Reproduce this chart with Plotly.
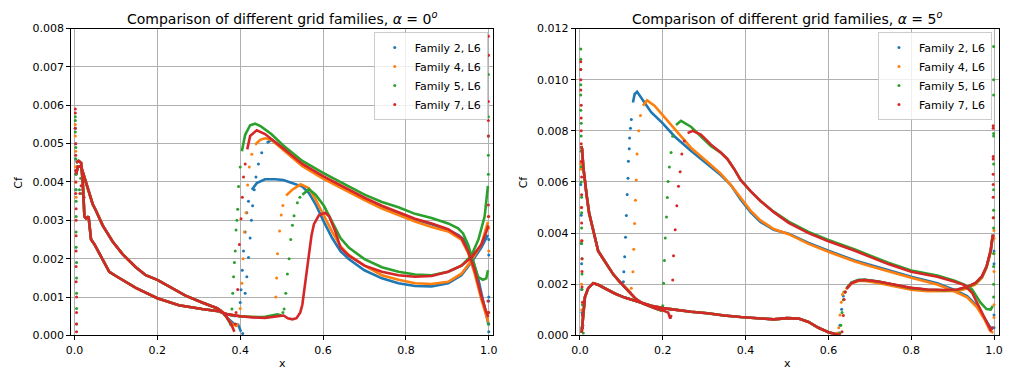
import plotly.graph_objects as go

# ---------------- colours / names ----------------
families = ["Family 2, L6", "Family 4, L6", "Family 5, L6", "Family 7, L6"]
colors = ["#1f77b4", "#ff7f0e", "#2ca02c", "#d62728"]
x_ticks = [0.0, 0.2, 0.4, 0.6, 0.8, 1.0]
x_tick_labels = ["0.0", "0.2", "0.4", "0.6", "0.8", "1.0"]

# ================= alpha = 0 =================
a0_lamU_x = [0.004, 0.008, 0.016, 0.024, 0.032, 0.044, 0.052, 0.068, 0.092, 0.116, 0.148, 0.172, 0.2, 0.228, 0.268, 0.308, 0.332, 0.344, 0.356]
a0_lamU_cf = [0.0042, 0.0044, 0.0044, 0.00413, 0.00388, 0.00342, 0.00325, 0.00287, 0.00245, 0.00212, 0.00178, 0.00157, 0.00145, 0.00128, 0.00104, 0.00086, 0.00075, 0.00071, 0.00062]
a0_lamL_x = [0.004, 0.01, 0.016, 0.02, 0.024, 0.028, 0.034, 0.04, 0.048, 0.056, 0.068, 0.084, 0.1, 0.12, 0.148, 0.2, 0.252, 0.308, 0.348]
a0_lamL_cf = [0.0045, 0.00455, 0.0045, 0.004, 0.0031, 0.00305, 0.0031, 0.0025, 0.00238, 0.00222, 0.00195, 0.00166, 0.00155, 0.00142, 0.00124, 0.00097, 0.00079, 0.00069, 0.00063]

# Family 2
a0_f2_A_x = [0.356, 0.37, 0.385, 0.395, 0.402, None, 0.464, 0.476, 0.5, 0.55, 0.6, 0.662, 0.7, 0.742, 0.782, 0.822, 0.862, 0.902, 0.926, 0.94, 0.95, 0.962, 0.974, 0.986, 0.994, 0.999]
a0_f2_A_cf = [0.00062, 0.00045, 0.0003, 0.00028, 0.0001, None, 0.00502, 0.0051, 0.0049, 0.00445, 0.00413, 0.00378, 0.00357, 0.00336, 0.00319, 0.00302, 0.0029, 0.00275, 0.00262, 0.0025, 0.0023, 0.00195, 0.0015, 0.0009, 0.0005, 0.0003]
a0_f2_B_x = [0.348, 0.37, 0.39, None, 0.428, 0.44, 0.46, 0.484, 0.504, 0.526, 0.55, 0.566, 0.582, 0.602, 0.622, 0.642, 0.662, 0.7, 0.742, 0.782, 0.822, 0.862, 0.902, 0.934, 0.958, 0.982, 0.998]
a0_f2_B_cf = [0.00063, 0.00055, 0.0005, None, 0.0038, 0.00397, 0.00407, 0.00407, 0.00405, 0.00397, 0.00388, 0.00371, 0.00342, 0.00296, 0.00254, 0.0022, 0.00199, 0.0017, 0.00149, 0.00136, 0.00129, 0.00128, 0.00136, 0.00157, 0.00191, 0.00229, 0.00262]
a0_f2_dots_x = [0.002, 0.003, 0.003, 0.004, 0.004,
                0.398, 0.4, 0.402, 0.405, 0.408, 0.412, 0.416, 0.42,
                0.406, 0.412, 0.416, 0.42, 0.424, 0.427, 0.43, 0.434, 0.438, 0.444, 0.452,
                1.0, 1.0, 1.0, 1.0, 1.0, 1.0]
a0_f2_dots_cf = [0.0054, 0.005, 0.0046, 0.0042, 0.0038,
                 0.0005, 0.00086, 0.00119, 0.0017, 0.0022, 0.0027, 0.0032, 0.0035,
                 0.00005, 0.0011, 0.00153, 0.00203, 0.00254, 0.003, 0.00338, 0.0038, 0.00413, 0.00447, 0.00476,
                 0.0025, 0.0021, 0.001, 0.0009, 0.0003, 0.0001]

# Family 4
a0_f4_A_x = [0.356, 0.37, 0.38, 0.39, 0.395, None, 0.436, 0.448, 0.46, 0.475, 0.502, 0.55, 0.6, 0.662, 0.7, 0.742, 0.782, 0.822, 0.862, 0.902, 0.934, 0.95, 0.966, 0.982, 0.994, 0.999]
a0_f4_A_cf = [0.00062, 0.00045, 0.0003, 0.00025, 0.0003, None, 0.00497, 0.0051, 0.00514, 0.0051, 0.00485, 0.00441, 0.00409, 0.00373, 0.00353, 0.00331, 0.00314, 0.00297, 0.00283, 0.00271, 0.0025, 0.00216, 0.00161, 0.00094, 0.00052, 0.00035]
a0_f4_B_x = [0.348, 0.37, 0.4, 0.43, 0.46, 0.48, None, 0.511, 0.526, 0.546, 0.566, 0.582, 0.602, 0.622, 0.642, 0.662, 0.7, 0.742, 0.782, 0.822, 0.862, 0.902, 0.934, 0.958, 0.982, 0.998]
a0_f4_B_cf = [0.00063, 0.00055, 0.0005, 0.00048, 0.00047, 0.0005, None, 0.00365, 0.0038, 0.00394, 0.00384, 0.00355, 0.00313, 0.0027, 0.00233, 0.0021, 0.00182, 0.00157, 0.00145, 0.00136, 0.00134, 0.0014, 0.00161, 0.00195, 0.00237, 0.00296]
a0_f4_dots_x = [0.002, 0.002, 0.003, 0.003, 0.004, 0.004,
                0.4, 0.404, 0.407, 0.41, 0.414, 0.418, 0.422, 0.428,
                0.483, 0.486, 0.488, 0.49, 0.495, 0.499, 0.503,
                1.0, 1.0, 1.0, 1.0]
a0_f4_dots_cf = [0.0055, 0.0052, 0.0048, 0.0044, 0.004, 0.0036,
                 0.0007, 0.00136, 0.002, 0.0027, 0.0032, 0.00392, 0.00439, 0.00472,
                 0.00053, 0.001, 0.0015, 0.00213, 0.00272, 0.00314, 0.00339,
                 0.0031, 0.0028, 0.0022, 0.0006]

# Family 5
a0_f5_A_x = [0.356, 0.366, 0.374, 0.378, None, 0.404, 0.412, 0.424, 0.436, 0.45, 0.475, 0.502, 0.55, 0.6, 0.662, 0.7, 0.742, 0.782, 0.822, 0.862, 0.902, 0.926, 0.938, 0.95, 0.962, 0.974, 0.986, 0.994, 0.998]
a0_f5_A_cf = [0.00062, 0.0005, 0.00035, 0.00025, None, 0.0048, 0.00523, 0.00548, 0.00552, 0.00545, 0.00525, 0.00497, 0.00455, 0.00424, 0.00388, 0.00367, 0.00348, 0.00334, 0.00317, 0.00306, 0.00292, 0.00279, 0.00266, 0.00237, 0.00195, 0.00153, 0.00145, 0.00149, 0.0017]
a0_f5_B_x = [0.348, 0.37, 0.4, 0.43, 0.46, 0.48, 0.49, 0.5, None, 0.55, 0.566, 0.582, 0.602, 0.622, 0.642, 0.662, 0.7, 0.742, 0.782, 0.822, 0.862, 0.902, 0.934, 0.958, 0.975, 0.99, 0.998]
a0_f5_B_cf = [0.00063, 0.00055, 0.0005, 0.00048, 0.00049, 0.00052, 0.00055, 0.00052, None, 0.00367, 0.00381, 0.00367, 0.00338, 0.00296, 0.00254, 0.00229, 0.00199, 0.00178, 0.00166, 0.00159, 0.00157, 0.00166, 0.00182, 0.00208, 0.0025, 0.0031, 0.0039]
a0_f5_dots_x = [0.002, 0.002, 0.002, 0.003, 0.003, 0.003, 0.003, 0.004, 0.004, 0.004, 0.004, 0.005, 0.005, 0.005, 0.005, 0.005,
                0.012, 0.015, 0.018, 0.021,
                0.38, 0.382, 0.384, 0.386, 0.388, 0.39, 0.392, 0.394, 0.396, 0.4,
                0.503, 0.506, 0.51, 0.514, 0.518, 0.522, 0.526, 0.53, 0.538, 0.544,
                0.999, 0.999, 0.999, 0.999, 0.999, 0.999, 0.999, 0.999]
a0_f5_dots_cf = [0.0057, 0.0056, 0.0053, 0.0049, 0.0046, 0.0042, 0.0038, 0.0035, 0.0031, 0.0027, 0.0023, 0.0019, 0.0015, 0.0011, 0.0007, 0.0003,
                 0.0038, 0.0041, 0.0037, 0.004,
                 0.00069, 0.0011, 0.00153, 0.0019, 0.0022, 0.00275, 0.003, 0.00329, 0.00388, 0.00439,
                 0.0006, 0.00069, 0.0011, 0.0016, 0.002, 0.0025, 0.00287, 0.00312, 0.00346, 0.0036,
                 0.0073, 0.0068, 0.0057, 0.0052, 0.0047, 0.0042, 0.0006, 0.0003]

# Family 7
a0_f7_A_x = [0.356, 0.366, 0.378, 0.386, None, 0.417, 0.424, 0.44, 0.46, 0.502, 0.55, 0.6, 0.662, 0.7, 0.742, 0.782, 0.822, 0.862, 0.902, 0.934, 0.95, 0.966, 0.982, 0.994, 0.999]
a0_f7_A_cf = [0.00062, 0.0005, 0.0003, 0.0001, None, 0.00485, 0.0052, 0.00535, 0.00525, 0.00489, 0.00447, 0.00415, 0.0038, 0.00359, 0.00338, 0.00321, 0.00304, 0.00292, 0.00277, 0.00254, 0.0022, 0.0017, 0.00103, 0.00061, 0.00048]
a0_f7_B_x = [0.348, 0.37, 0.4, 0.43, 0.46, 0.49, 0.505, 0.515, 0.526, 0.536, 0.545, 0.55, 0.556, 0.562, 0.567, 0.572, 0.578, 0.59, 0.605, 0.615, 0.63, 0.642, 0.662, 0.7, 0.742, 0.782, 0.822, 0.862, 0.902, 0.934, 0.958, 0.982, 0.994, 0.999]
a0_f7_B_cf = [0.00063, 0.00055, 0.0005, 0.00047, 0.00046, 0.0005, 0.00052, 0.00045, 0.00042, 0.00045, 0.0006, 0.0008, 0.0013, 0.0018, 0.0022, 0.0026, 0.0029, 0.00313, 0.0032, 0.0031, 0.0027, 0.00229, 0.00208, 0.00182, 0.00166, 0.00157, 0.00153, 0.00155, 0.00166, 0.00182, 0.00203, 0.00237, 0.0027, 0.00287]
a0_f7_dots_x = [0.002, 0.002, 0.002, 0.003, 0.003, 0.003, 0.003, 0.003, 0.004, 0.004, 0.004, 0.004, 0.004, 0.004, 0.005, 0.005, 0.005, 0.005,
                0.013, 0.016, 0.02, 0.023,
                0.388, 0.39, 0.394, 0.398, 0.402, 0.405, 0.408, 0.412,
                0.999, 0.999, 0.999, 0.999, 0.999, 0.999, 0.999, 0.998, 0.999]
a0_f7_dots_cf = [0.0059, 0.0058, 0.0054, 0.005, 0.0047, 0.0043, 0.004, 0.0037, 0.0033, 0.003, 0.0026, 0.0022, 0.0018, 0.0014, 0.001, 0.0006, 0.0003, 0.0001,
                 0.0037, 0.0039, 0.0038, 0.0036,
                 0.0003, 0.0006, 0.0012, 0.00237, 0.00304, 0.0036, 0.00413, 0.00447,
                 0.0078, 0.0073, 0.0061, 0.0056, 0.0052, 0.0034, 0.0031, 0.0009, 0.0006]

# ================= alpha = 5 =================
a5_P_pre_x = [0.004, 0.006, 0.008, 0.012, 0.02, 0.032, 0.044, 0.06, 0.084, 0.108, 0.132, 0.148, 0.172, 0.2, 0.228, 0.268, 0.308, 0.348, 0.388, 0.436, 0.468, 0.5, 0.528, 0.552, 0.576, 0.6, 0.616, 0.624]
a5_P_pre_cf = [0.0001, 0.0005, 0.001, 0.0015, 0.00185, 0.00204, 0.00198, 0.00185, 0.00164, 0.00148, 0.00135, 0.00126, 0.00116, 0.00107, 0.00101, 0.00093, 0.00087, 0.00078, 0.00072, 0.00066, 0.00063, 0.00068, 0.00066, 0.00053, 0.0003, 0.00013, 0.00005, 0.00003]

# Family 2
a5_f2_S_x = [0.003, 0.005, 0.008, 0.012, 0.016, 0.022, 0.032, 0.044, 0.056, 0.064, 0.08, 0.096, 0.104, None, 0.128, 0.132, 0.138, 0.148, 0.172, 0.2, 0.228, 0.268, 0.308, 0.34, 0.364, 0.388, 0.412, 0.436, 0.468, 0.504, 0.552, 0.6, 0.664, 0.704, 0.743, 0.8, 0.863, 0.903, 0.935, 0.959, 0.978, 0.99, 0.998]
a5_f2_S_cf = [0.0074, 0.0073, 0.0066, 0.006, 0.0055, 0.0048, 0.0041, 0.0033, 0.003, 0.0028, 0.0024, 0.0021, 0.002, None, 0.00911, 0.00943, 0.00953, 0.0093, 0.00873, 0.00829, 0.00779, 0.00722, 0.00671, 0.00627, 0.00589, 0.00532, 0.00482, 0.00444, 0.00413, 0.00398, 0.00362, 0.00331, 0.00293, 0.00274, 0.00255, 0.0023, 0.00204, 0.00179, 0.00154, 0.00116, 0.00066, 0.00034, 0.00025]
a5_f2_P_x = [0.644, 0.656, 0.672, 0.688, 0.72, 0.759, 0.8, 0.839, 0.879, 0.911, 0.935, 0.955, 0.971, 0.982, 0.992, 0.997]
a5_f2_P_cf = [0.00185, 0.00207, 0.00217, 0.00218, 0.00211, 0.00198, 0.00185, 0.00179, 0.00177, 0.00179, 0.00189, 0.00204, 0.0023, 0.00268, 0.00331, 0.00394]
a5_f2_dots_x = [0.002, 0.003, 0.003, 0.004, 0.004, 0.005, 0.005,
                0.105, 0.106, 0.108, 0.11, 0.112, 0.114, 0.116, 0.117, 0.119, 0.12, 0.122, 0.124,
                0.626, 0.628, 0.632, 0.636, 0.64,
                1.0, 1.0, 1.0, 1.0]
a5_f2_dots_cf = [0.0059, 0.0047, 0.0036, 0.0028, 0.0018, 0.0009, 0.0003,
                 0.0021, 0.00249, 0.00308, 0.00384, 0.00469, 0.00551, 0.00615, 0.00681, 0.0073, 0.00772, 0.0081, 0.00844,
                 0.0001, 0.0004, 0.00103, 0.00154, 0.0017,
                 0.0033, 0.0028, 0.0008, 0.0003]

# Family 4
a5_f4_S_x = [0.003, 0.005, 0.008, 0.012, 0.016, 0.022, 0.032, 0.044, 0.056, 0.064, 0.08, 0.096, 0.108, 0.12, 0.124, None, 0.152, 0.162, 0.18, 0.2, 0.228, 0.268, 0.308, 0.34, 0.364, 0.388, 0.412, 0.436, 0.468, 0.504, 0.552, 0.6, 0.664, 0.704, 0.743, 0.8, 0.863, 0.903, 0.935, 0.959, 0.978, 0.99, 0.998]
a5_f4_S_cf = [0.0074, 0.0073, 0.0066, 0.006, 0.0055, 0.0048, 0.0041, 0.0033, 0.003, 0.0028, 0.0024, 0.0021, 0.0019, 0.0017, 0.00165, None, 0.00898, 0.00919, 0.00898, 0.0086, 0.0081, 0.00734, 0.00678, 0.00633, 0.00589, 0.00539, 0.00488, 0.0045, 0.00416, 0.00396, 0.00358, 0.00327, 0.00289, 0.0027, 0.00251, 0.00226, 0.00199, 0.00174, 0.00149, 0.0011, 0.0006, 0.0002, 0.0001]
a5_f4_P_x = [0.642, 0.656, 0.672, 0.688, 0.72, 0.759, 0.8, 0.839, 0.879, 0.911, 0.935, 0.955, 0.971, 0.982, 0.992, 0.997]
a5_f4_P_cf = [0.0018, 0.00203, 0.00213, 0.00213, 0.00205, 0.00192, 0.00179, 0.00173, 0.00172, 0.00174, 0.00184, 0.002, 0.00226, 0.00265, 0.00328, 0.0039]
a5_f4_dots_x = [0.002, 0.002, 0.003, 0.003, 0.004, 0.004,
                0.124, 0.128, 0.13, 0.132, 0.134, 0.136, 0.138, 0.142, 0.146,
                0.622, 0.625, 0.628, 0.631, 0.634, 0.637,
                1.0, 1.0, 1.0, 1.0, 1.0, 1.0]
a5_f4_dots_cf = [0.0067, 0.0065, 0.005, 0.0037, 0.002, 0.001,
                 0.00185, 0.00249, 0.00337, 0.00438, 0.00529, 0.00608, 0.00709, 0.008, 0.0086,
                 0.0001, 0.0003, 0.0008, 0.0013, 0.0016, 0.0017,
                 0.0041, 0.0038, 0.0032, 0.0025, 0.0012, 0.0007]

# Family 5
a5_f5_S_x = [0.003, 0.005, 0.008, 0.012, 0.016, 0.022, 0.032, 0.044, 0.056, 0.064, 0.08, 0.096, 0.108, 0.12, 0.135, 0.152, 0.17, 0.184, 0.198, None, 0.232, 0.244, 0.268, 0.292, 0.316, 0.34, 0.356, 0.372, 0.388, 0.412, 0.436, 0.468, 0.504, 0.552, 0.6, 0.664, 0.704, 0.743, 0.8, 0.863, 0.903, 0.927, 0.947, 0.967, 0.982, 0.992, 0.997]
a5_f5_S_cf = [0.0074, 0.0073, 0.0066, 0.006, 0.0055, 0.0048, 0.0041, 0.0033, 0.003, 0.0028, 0.0024, 0.0021, 0.0019, 0.0017, 0.00143, 0.00125, 0.00112, 0.00104, 0.00096, None, 0.00823, 0.00839, 0.00816, 0.00779, 0.00741, 0.00715, 0.0069, 0.00652, 0.00608, 0.00564, 0.00526, 0.00484, 0.00445, 0.00405, 0.00373, 0.00336, 0.0031, 0.00285, 0.00254, 0.00234, 0.00215, 0.002, 0.0018, 0.00129, 0.00103, 0.00101, 0.00116]
a5_f5_P_x = [0.644, 0.656, 0.672, 0.688, 0.72, 0.759, 0.8, 0.839, 0.879, 0.911, 0.935, 0.955, 0.971, 0.982, 0.992, 0.997]
a5_f5_P_cf = [0.00185, 0.00207, 0.00217, 0.00218, 0.00211, 0.00198, 0.00185, 0.00179, 0.00177, 0.00179, 0.00189, 0.00204, 0.0023, 0.00268, 0.00331, 0.00394]
a5_f5_dots_x = [0.002, 0.002, 0.002, 0.002, 0.002, 0.002, 0.003, 0.003, 0.003, 0.003, 0.003, 0.004, 0.004, 0.004, 0.004, 0.005, 0.005, 0.005, 0.006, 0.006, 0.007, 0.008,
                0.2, 0.202, 0.204, 0.206, 0.209, 0.211, 0.213, 0.216, 0.22, 0.224,
                0.628, 0.63, 0.633, 0.636, 0.64,
                0.999, 0.999, 0.999, 0.999, 0.999, 0.999, 0.999, 0.999, 0.999, 0.999, 0.999, 0.999, 0.999, 0.999]
a5_f5_dots_cf = [0.0112, 0.0108, 0.0104, 0.0098, 0.0094, 0.0088, 0.0083, 0.0078, 0.0072, 0.0066, 0.006, 0.0054, 0.0048, 0.0042, 0.0036, 0.003, 0.0024, 0.0018, 0.0012, 0.0008, 0.0004, 0.0001,
                 0.00116, 0.00204, 0.00293, 0.00381, 0.00463, 0.00539, 0.00602, 0.00659, 0.00715, 0.00779,
                 0.0001, 0.0004, 0.0009, 0.0014, 0.0017,
                 0.0113, 0.01, 0.0094, 0.0079, 0.0078, 0.0067, 0.0057, 0.0049, 0.0046, 0.0042, 0.0032, 0.0027, 0.002, 0.0015]

# Family 7
a5_f7_S_x = [0.003, 0.005, 0.008, 0.012, 0.016, 0.022, 0.032, 0.044, 0.056, 0.064, 0.08, 0.096, 0.108, 0.12, 0.135, 0.152, 0.17, 0.184, 0.2, 0.207, 0.213, 0.218, 0.221, None, 0.26, 0.272, 0.292, 0.316, 0.34, 0.356, 0.372, 0.388, 0.412, 0.436, 0.468, 0.504, 0.552, 0.6, 0.664, 0.704, 0.743, 0.8, 0.863, 0.903, 0.927, 0.947, 0.967, 0.982, 0.992, 0.998]
a5_f7_S_cf = [0.0074, 0.0073, 0.0066, 0.006, 0.0055, 0.0048, 0.0041, 0.0033, 0.003, 0.0028, 0.0024, 0.0021, 0.0019, 0.0017, 0.00143, 0.00125, 0.00112, 0.00104, 0.00098, 0.00095, 0.0009, 0.00066, 0.0008, None, 0.00791, 0.008, 0.00785, 0.00747, 0.00715, 0.0069, 0.00652, 0.00608, 0.00564, 0.00526, 0.00482, 0.0044, 0.004, 0.00368, 0.00331, 0.00305, 0.0028, 0.00249, 0.0023, 0.00211, 0.00198, 0.00167, 0.00103, 0.00053, 0.00021, 0.00034]
a5_f7_P_x = [0.624, 0.63, None, 0.644, 0.656, 0.672, 0.688, 0.72, 0.759, 0.8, 0.839, 0.879, 0.911, 0.935, 0.955, 0.971, 0.982, 0.992, 0.997]
a5_f7_P_cf = [0.00003, 0.00004, None, 0.00182, 0.00205, 0.00215, 0.00217, 0.00211, 0.00199, 0.00186, 0.0018, 0.00178, 0.0018, 0.0019, 0.00205, 0.00232, 0.0027, 0.00333, 0.0039]
a5_f7_dots_x = [0.002, 0.002, 0.002, 0.002, 0.003, 0.003, 0.003, 0.003, 0.003, 0.004, 0.004, 0.004, 0.004, 0.005, 0.005, 0.005, 0.005, 0.006, 0.006, 0.006,
                0.222, 0.224, 0.226, 0.23, 0.234, 0.238, 0.242, 0.246, 0.252,
                0.633, 0.636, 0.638, 0.641,
                0.998, 0.998, 0.998, 0.998, 0.998, 0.998, 0.998, 0.998, 0.998]
a5_f7_dots_cf = [0.0107, 0.0104, 0.01, 0.0096, 0.009, 0.0085, 0.008, 0.0075, 0.0068, 0.0062, 0.0055, 0.005, 0.0044, 0.0037, 0.003, 0.0025, 0.0019, 0.0013, 0.0008, 0.0003,
                 0.00103, 0.00217, 0.00312, 0.00413, 0.00507, 0.00583, 0.0064, 0.00709, 0.0076,
                 0.00015, 0.00078, 0.00141, 0.0017,
                 0.0082, 0.0081, 0.007, 0.0069, 0.0063, 0.0059, 0.0054, 0.0046, 0.0039]

# ---------------- assemble ----------------
panel0 = [
    ([(a0_lamU_x, a0_lamU_cf), (a0_lamL_x, a0_lamL_cf), (a0_f2_A_x, a0_f2_A_cf), (a0_f2_B_x, a0_f2_B_cf)], (a0_f2_dots_x, a0_f2_dots_cf)),
    ([(a0_lamU_x, a0_lamU_cf), (a0_lamL_x, a0_lamL_cf), (a0_f4_A_x, a0_f4_A_cf), (a0_f4_B_x, a0_f4_B_cf)], (a0_f4_dots_x, a0_f4_dots_cf)),
    ([(a0_lamU_x, a0_lamU_cf), (a0_lamL_x, a0_lamL_cf), (a0_f5_A_x, a0_f5_A_cf), (a0_f5_B_x, a0_f5_B_cf)], (a0_f5_dots_x, a0_f5_dots_cf)),
    ([(a0_lamU_x, a0_lamU_cf), (a0_lamL_x, a0_lamL_cf), (a0_f7_A_x, a0_f7_A_cf), (a0_f7_B_x, a0_f7_B_cf)], (a0_f7_dots_x, a0_f7_dots_cf)),
]
panel5 = [
    ([(a5_P_pre_x, a5_P_pre_cf), (a5_f2_S_x, a5_f2_S_cf), (a5_f2_P_x, a5_f2_P_cf)], (a5_f2_dots_x, a5_f2_dots_cf)),
    ([(a5_P_pre_x, a5_P_pre_cf), (a5_f4_S_x, a5_f4_S_cf), (a5_f4_P_x, a5_f4_P_cf)], (a5_f4_dots_x, a5_f4_dots_cf)),
    ([(a5_P_pre_x, a5_P_pre_cf), (a5_f5_S_x, a5_f5_S_cf), (a5_f5_P_x, a5_f5_P_cf)], (a5_f5_dots_x, a5_f5_dots_cf)),
    ([(a5_P_pre_x, a5_P_pre_cf), (a5_f7_S_x, a5_f7_S_cf), (a5_f7_P_x, a5_f7_P_cf)], (a5_f7_dots_x, a5_f7_dots_cf)),
]

fig = go.Figure()
for panel, xa, ya, leg in [(panel0, "x", "y", "legend"), (panel5, "x2", "y2", "legend2")]:
    for i, (segs, dots) in enumerate(panel):
        for sx, sy in segs:
            fig.add_trace(go.Scatter(x=sx, y=sy, mode="lines", xaxis=xa, yaxis=ya,
                                     line=dict(color=colors[i], width=2.6),
                                     showlegend=False, hoverinfo="skip"))
        fig.add_trace(go.Scatter(x=dots[0], y=dots[1], mode="markers", xaxis=xa, yaxis=ya,
                                 marker=dict(color=colors[i], size=3), name=families[i],
                                 legend=leg, showlegend=True))

FONT = "DejaVu Sans"
axis_common = dict(showline=True, mirror=True, linecolor="black", linewidth=1,
                   ticks="outside", ticklen=4, tickwidth=1, tickcolor="black",
                   showgrid=True, gridcolor="#b0b0b0", gridwidth=0.8,
                   zeroline=False, tickfont=dict(family=FONT, size=11, color="black"))

ydom = [0.1143, 0.9395]
legend_common = dict(xanchor="right", y=0.93, yanchor="top", bgcolor="rgba(255,255,255,0.8)",
                     bordercolor="#cccccc", borderwidth=1,
                     font=dict(family=FONT, size=11, color="black"), tracegroupgap=0)
ann_common = dict(xref="paper", yref="paper", showarrow=False, xanchor="center", yanchor="middle")
fig.update_layout(
    width=1027, height=385, margin=dict(l=0, r=0, t=0, b=0),
    paper_bgcolor="white", plot_bgcolor="white", hovermode=False,
    font=dict(family=FONT, size=11, color="black"),
    xaxis=dict(domain=[0.0650, 0.4794], range=[-0.008, 1.0103], tickvals=x_ticks, ticktext=x_tick_labels, anchor="y", **axis_common),
    yaxis=dict(domain=ydom, range=[0, 0.008], dtick=0.001, tickformat=".3f", anchor="x", **axis_common),
    xaxis2=dict(domain=[0.5606, 0.9760], range=[-0.0103, 1.011], tickvals=x_ticks, ticktext=x_tick_labels, anchor="y2", **axis_common),
    yaxis2=dict(domain=ydom, range=[0, 0.012], dtick=0.002, tickformat=".3f", anchor="x2", **axis_common),
    legend=dict(x=0.4742, **legend_common),
    legend2=dict(x=0.9695, **legend_common),
    annotations=[
        dict(text="Comparison of different grid families, <i>α</i> = 0<sup><i>o</i></sup>", x=0.2722, y=0.968,
             font=dict(size=14), **ann_common),
        dict(text="Comparison of different grid families, <i>α</i> = 5<sup><i>o</i></sup>", x=0.7683, y=0.968,
             font=dict(size=14), **ann_common),
        dict(text="x", x=0.2722, y=0.039, font=dict(size=11), **ann_common),
        dict(text="x", x=0.7683, y=0.039, font=dict(size=11), **ann_common),
        dict(text="Cf", x=0.0136, y=0.527, textangle=-90, font=dict(size=11), **ann_common),
        dict(text="Cf", x=0.5102, y=0.527, textangle=-90, font=dict(size=11), **ann_common),
    ],
)

fig.write_html("out.html", config={"displayModeBar": False},
               post_script="document.body.style.margin='0px';")
